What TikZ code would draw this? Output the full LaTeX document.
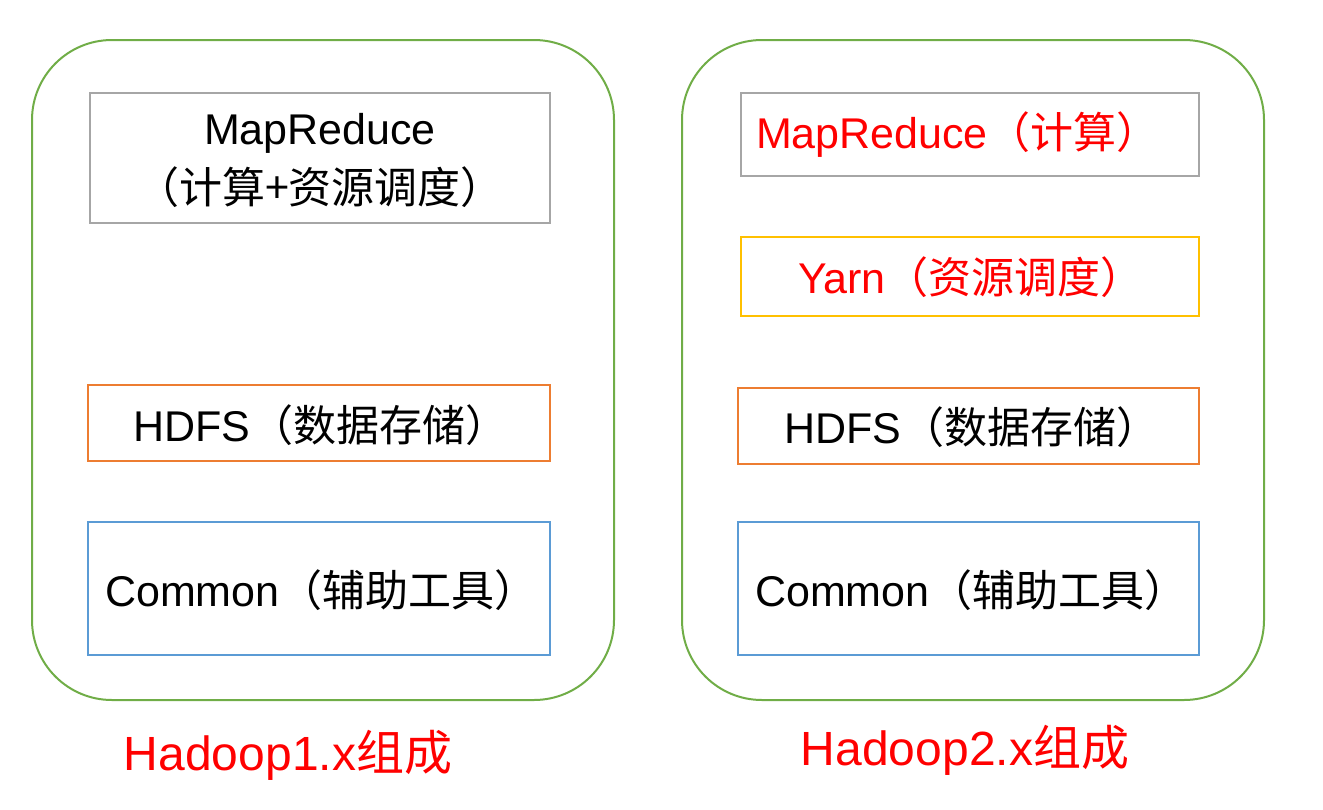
\documentclass[tikz,border=0pt]{standalone}
\usepackage{fontspec}
\setmainfont{Liberation Sans}
\newfontfamily\cjk{Noto Sans CJK SC}
\begin{document}
\begin{tikzpicture}[x=1pt,y=-1pt,
  outer/.style={line width=2pt,rounded corners=80pt},
  box/.style={line width=2pt},
  lab/.style={font=\fontsize{43}{50}\selectfont,inner sep=0pt},
  ttl/.style={font=\fontsize{48}{54}\selectfont,text=red,inner sep=0pt}]
\definecolor{grn}{RGB}{112,173,71}
\definecolor{gry}{RGB}{166,166,166}
\definecolor{org}{RGB}{237,125,49}
\definecolor{blu}{RGB}{91,155,213}
\definecolor{yel}{RGB}{255,192,0}
\useasboundingbox (0,0) rectangle (1323,809);
\draw[outer,draw=grn] (32,40) rectangle (614,700);
\draw[outer,draw=grn] (682,40) rectangle (1264,700);
\draw[box,draw=gry] (90,93) rectangle (550,223);
\draw[box,draw=org] (88,385) rectangle (550,461);
\draw[box,draw=blu] (88,522) rectangle (550,655);
\draw[box,draw=gry] (741,93) rectangle (1199,176);
\draw[box,draw=yel] (741,237) rectangle (1199,316);
\draw[box,draw=org] (738,388) rectangle (1199,464);
\draw[box,draw=blu] (738,522) rectangle (1199,655);
\node[lab] (m1) at (320,133) {MapReduce};
\node[lab] (m1b) at (320,187) {\cjk（计算+资源调度）};
\node[lab,anchor=west] (h1) at (133,425) {HDFS{\cjk（数据存储）}};
\node[lab,anchor=west] (c1) at (105,590) {Common{\cjk（辅助工具）}};
\node[lab,text=red] (m2) at (958,135) {MapReduce{\cjk（计算）}};
\node[lab,text=red,anchor=west] (y2) at (798,277) {Yarn{\cjk（资源调度）}};
\node[lab,anchor=west] (h2) at (784,427) {HDFS{\cjk（数据存储）}};
\node[lab,anchor=west] (c2) at (755,590) {Common{\cjk（辅助工具）}};
\node[ttl] (t1) at (288,755) {Hadoop1.x{\cjk 组成}};
\node[ttl] (t2) at (965,750) {Hadoop2.x{\cjk 组成}};
\end{tikzpicture}
\end{document}
